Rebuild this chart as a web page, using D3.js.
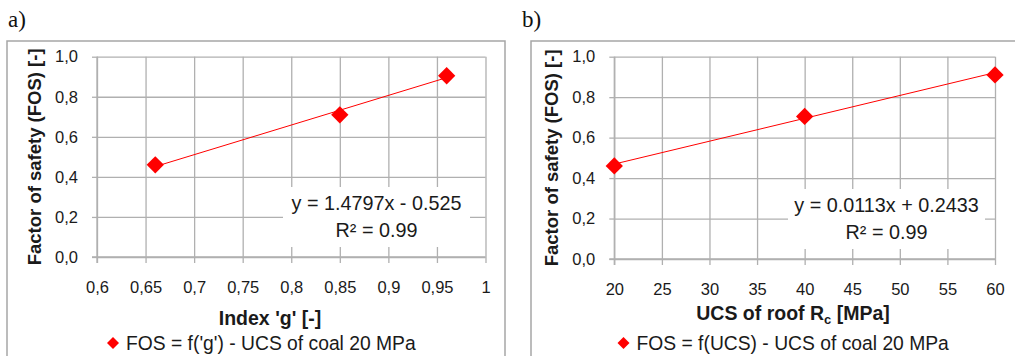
<!DOCTYPE html>
<html>
<head>
<meta charset="utf-8">
<script src="https://cdn.jsdelivr.net/npm/d3@7"></script>
<style>
  html, body { margin: 0; padding: 0; background: #fff; }
  svg { display: block; }
</style>
</head>
<body>
<svg id="chart" width="1015" height="356"></svg>
<script>
// ---- data ----
const gIndex = [0.66, 0.85, 0.96];
const fosByG = [0.46, 0.71, 0.905];
const ucsRoof = [20, 40, 60];
const fosByUcs = [0.46, 0.705, 0.91];

const fosTicks = [0, 0.2, 0.4, 0.6, 0.8, 1.0];
const gTicks = [0.6, 0.65, 0.7, 0.75, 0.8, 0.85, 0.9, 0.95, 1];
const ucsTicks = [20, 25, 30, 35, 40, 45, 50, 55, 60];

const trendG = [1.4797, -0.525];     // slope, intercept
const trendUcs = [0.0113, 0.2433];
const eqG = ['y = 1.4797x - 0.525', 'R² = 0.99'];
const eqUcs = ['y = 0.0113x + 0.2433', 'R² = 0.99'];

const FONT = "'Liberation Sans', Arial, sans-serif";
const GRID = '#b0b0b0';
const RED = '#ff0000';
const INK = '#1a1a1a';

const comma = d3.formatLocale({ decimal: ',', thousands: '.', grouping: [3], currency: ['', ''] });
const fmtY = comma.format('.1f');
const fmtG = v => comma.format('')(v);

const panels = [
  {
    tag: 'a)', tagX: 8,
    frame: { x: 7, y: 41, w: 498 },
    plot: { left: 97, right: 485.5, top: 56.7, bottom: 257 },
    xDomain: [0.6, 1], xTicks: gTicks, xFmt: fmtG,
    xs: gIndex, ys: fosByG, trend: trendG, eq: eqG,
    eqBox: { x0: 283, x1: 470, y0: 187, y1: 247 },
    xTitle: "Index 'g' [-]", xTitleX: 270, xTitleY: 325,
    legendText: "FOS = f('g') - UCS of coal 20 MPa", legendX: 113
  },
  {
    tag: 'b)', tagX: 522,
    frame: { x: 531, y: 41, w: 500 },
    plot: { left: 614.3, right: 995, top: 56.7, bottom: 259 },
    xDomain: [20, 60], xTicks: ucsTicks, xFmt: d3.format('d'),
    xs: ucsRoof, ys: fosByUcs, trend: trendUcs, eq: eqUcs,
    eqBox: { x0: 788, x1: 985, y0: 189, y1: 249 },
    xTitle: 'UCS of roof R', xTitleSub: 'c', xTitleTail: ' [MPa]', xTitleX: 793, xTitleY: 320,
    legendText: 'FOS = f(UCS) - UCS of coal 20 MPa', legendX: 623.5
  }
];

const svg = d3.select('#chart');
const diamond = d3.symbol().type(d3.symbolSquare);

panels.forEach(p => {
  const g = svg.append('g');
  const { left, right, top, bottom } = p.plot;

  // panel letter
  g.append('text')
    .attr('x', p.tagX).attr('y', 27)
    .attr('font-family', "'Liberation Serif', 'Times New Roman', serif")
    .attr('font-size', 23).attr('fill', '#111')
    .text(p.tag);

  // chart frame
  g.append('rect')
    .attr('x', p.frame.x).attr('y', p.frame.y)
    .attr('width', p.frame.w).attr('height', 360)
    .attr('fill', 'none').attr('stroke', '#a6a6a6').attr('stroke-width', 1.5);

  const x = d3.scaleLinear().domain(p.xDomain).range([left, right]);
  const y = d3.scaleLinear().domain([0, 1]).range([bottom, top]);

  // gridlines
  g.append('g')
    .attr('transform', `translate(0,${bottom})`)
    .call(d3.axisBottom(x).tickValues(p.xTicks).tickSize(-(bottom - top)).tickFormat(''))
    .call(s => s.select('.domain').remove())
    .call(s => s.selectAll('line').attr('stroke', GRID).attr('stroke-width', 1.3));
  g.append('g')
    .attr('transform', `translate(${left},0)`)
    .call(d3.axisLeft(y).tickValues(fosTicks).tickSize(-(right - left)).tickFormat(''))
    .call(s => s.select('.domain').remove())
    .call(s => s.selectAll('line').attr('stroke', GRID).attr('stroke-width', 1.3));

  // axes with outward ticks
  g.append('g')
    .attr('transform', `translate(0,${bottom})`)
    .call(d3.axisBottom(x).tickValues(p.xTicks).tickSize(6).tickPadding(18).tickFormat(p.xFmt))
    .call(s => s.select('.domain').attr('stroke', GRID).attr('stroke-width', 1.3)
      .attr('d', `M${left - 5},0H${right}`))
    .call(s => s.selectAll('.tick line').attr('stroke', GRID).attr('stroke-width', 1.3))
    .call(s => s.selectAll('.tick text').attr('font-family', FONT).attr('font-size', 16.5).attr('fill', INK));

  g.append('g')
    .attr('transform', `translate(${left},0)`)
    .call(d3.axisLeft(y).tickValues(fosTicks).tickSize(5).tickPadding(14).tickFormat(fmtY))
    .call(s => s.select('.domain').attr('stroke', GRID).attr('stroke-width', 1.3)
      .attr('d', `M0,${bottom + 6}V${top}`))
    .call(s => s.selectAll('.tick line').attr('stroke', GRID).attr('stroke-width', 1.3))
    .call(s => s.selectAll('.tick text').attr('font-family', FONT).attr('font-size', 16.5).attr('fill', INK));

  // trendline
  const [m, c] = p.trend;
  const xr = d3.extent(p.xs);
  g.append('path')
    .datum(xr.map(v => [v, m * v + c]))
    .attr('fill', 'none').attr('stroke', RED).attr('stroke-width', 1)
    .attr('d', d3.line().x(d => x(d[0])).y(d => y(d[1])));

  // markers
  g.selectAll('.pt').data(p.xs.map((v, i) => [v, p.ys[i]])).join('path')
    .attr('class', 'pt')
    .attr('transform', d => `translate(${x(d[0])},${y(d[1])}) rotate(45)`)
    .attr('d', diamond.size(150)())
    .attr('fill', RED);

  // equation label
  const b = p.eqBox;
  g.append('rect')
    .attr('x', b.x0).attr('y', b.y0).attr('width', b.x1 - b.x0).attr('height', b.y1 - b.y0)
    .attr('fill', '#fff');
  const cx = (b.x0 + b.x1) / 2;
  p.eq.forEach((t, i) => {
    g.append('text')
      .attr('x', cx).attr('y', b.y0 + 23 + i * 27)
      .attr('text-anchor', 'middle')
      .attr('font-family', FONT).attr('font-size', 19.8).attr('fill', INK)
      .text(t);
  });

  // y title
  g.append('text')
    .attr('transform', `translate(${left - 56},${(top + bottom) / 2}) rotate(-90)`)
    .attr('text-anchor', 'middle')
    .attr('font-family', FONT).attr('font-weight', 'bold').attr('font-size', 18.5).attr('fill', INK)
    .text('Factor of safety (FOS) [-]');

  // x title
  const xt = g.append('text')
    .attr('x', p.xTitleX).attr('y', p.xTitleY)
    .attr('text-anchor', 'middle')
    .attr('font-family', FONT).attr('font-weight', 'bold').attr('font-size', 19.5).attr('fill', INK);
  xt.append('tspan').text(p.xTitle);
  if (p.xTitleSub) {
    xt.append('tspan').attr('font-size', 13).attr('dy', 4).text(p.xTitleSub);
    xt.append('tspan').attr('dy', -4).text(p.xTitleTail);
  }

  // legend
  g.append('path')
    .attr('transform', `translate(${p.legendX},${343}) rotate(45)`)
    .attr('d', diamond.size(72)())
    .attr('fill', RED);
  g.append('text')
    .attr('x', p.legendX + 13).attr('y', 349.5)
    .attr('font-family', FONT).attr('font-size', 19.3).attr('fill', INK)
    .text(p.legendText);
});
</script>
</body>
</html>
